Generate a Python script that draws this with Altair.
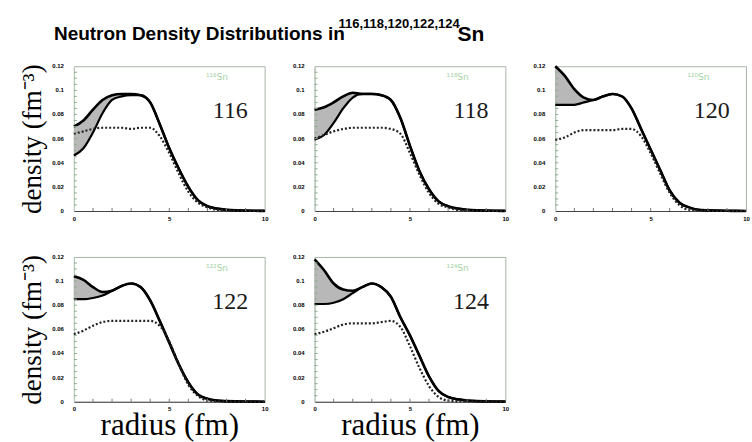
import altair as alt
import pandas as pd

# ---------------- data ----------------
radius = [0, 0.5, 1, 1.5, 2, 2.5, 3, 3.5, 4, 4.5, 5, 5.5, 6, 6.5, 7, 7.5, 8, 8.5, 9, 9.5, 10]

isotopes = ["116", "118", "120", "122", "124"]

upper_116 = [0.070, 0.075, 0.084, 0.092, 0.096, 0.097, 0.097, 0.096, 0.090, 0.072, 0.052, 0.035, 0.020, 0.009, 0.004, 0.002, 0.001, 0.0005, 0.0003, 0.0002, 0.0001]
lower_116 = [0.046, 0.052, 0.065, 0.081, 0.092, 0.095, 0.096, 0.096, 0.090, 0.072, 0.052, 0.035, 0.020, 0.009, 0.004, 0.002, 0.001, 0.0005, 0.0003, 0.0002, 0.0001]
dotted_116 = [0.064, 0.066, 0.068, 0.069, 0.069, 0.069, 0.068, 0.069, 0.069, 0.062, 0.048, 0.031, 0.016, 0.007, 0.003, 0.001, 0.0005, 0.0003, 0.0002, 0.0001, 0.0]

upper_118 = [0.084, 0.086, 0.090, 0.095, 0.098, 0.097, 0.097, 0.096, 0.092, 0.077, 0.054, 0.033, 0.018, 0.008, 0.004, 0.002, 0.001, 0.0005, 0.0003, 0.0002, 0.0001]
lower_118 = [0.059, 0.063, 0.073, 0.085, 0.094, 0.097, 0.097, 0.096, 0.092, 0.077, 0.054, 0.033, 0.018, 0.008, 0.004, 0.002, 0.001, 0.0005, 0.0003, 0.0002, 0.0001]
dotted_118 = [0.060, 0.063, 0.066, 0.068, 0.069, 0.069, 0.069, 0.069, 0.068, 0.064, 0.048, 0.030, 0.015, 0.006, 0.003, 0.001, 0.0005, 0.0003, 0.0002, 0.0001, 0.0]

upper_120 = [0.120, 0.112, 0.101, 0.094, 0.092, 0.095, 0.097, 0.095, 0.085, 0.068, 0.051, 0.034, 0.017, 0.007, 0.003, 0.001, 0.0005, 0.0003, 0.0002, 0.0001, 0.0]
lower_120 = [0.088, 0.088, 0.088, 0.090, 0.092, 0.095, 0.097, 0.095, 0.085, 0.068, 0.051, 0.034, 0.017, 0.007, 0.003, 0.001, 0.0005, 0.0003, 0.0002, 0.0001, 0.0]
dotted_120 = [0.059, 0.061, 0.065, 0.067, 0.067, 0.067, 0.067, 0.068, 0.068, 0.062, 0.048, 0.031, 0.015, 0.005, 0.001, 0.0005, 0.0002, 0.0001, 0.0, 0.0, 0.0]

upper_122 = [0.104, 0.101, 0.095, 0.091, 0.092, 0.096, 0.098, 0.095, 0.084, 0.067, 0.049, 0.031, 0.016, 0.006, 0.0025, 0.001, 0.0005, 0.0003, 0.0002, 0.0001, 0.0]
lower_122 = [0.085, 0.085, 0.086, 0.088, 0.092, 0.096, 0.098, 0.095, 0.084, 0.067, 0.049, 0.031, 0.016, 0.006, 0.0025, 0.001, 0.0005, 0.0003, 0.0002, 0.0001, 0.0]
dotted_122 = [0.056, 0.059, 0.063, 0.066, 0.067, 0.067, 0.067, 0.067, 0.067, 0.063, 0.050, 0.031, 0.014, 0.005, 0.001, 0.0005, 0.0002, 0.0001, 0.0, 0.0, 0.0]

upper_124 = [0.118, 0.109, 0.098, 0.093, 0.092, 0.095, 0.098, 0.095, 0.087, 0.070, 0.055, 0.038, 0.021, 0.009, 0.004, 0.002, 0.001, 0.0005, 0.0003, 0.0002, 0.0001]
lower_124 = [0.081, 0.081, 0.082, 0.085, 0.090, 0.095, 0.098, 0.095, 0.087, 0.070, 0.055, 0.038, 0.021, 0.009, 0.004, 0.002, 0.001, 0.0005, 0.0003, 0.0002, 0.0001]
dotted_124 = [0.056, 0.058, 0.061, 0.064, 0.065, 0.065, 0.065, 0.066, 0.067, 0.062, 0.046, 0.028, 0.013, 0.004, 0.001, 0.0005, 0.0002, 0.0001, 0.0, 0.0, 0.0]

x_labels = [0, 5, 10]
x_minor = [1, 2, 3, 4, 5, 6, 7, 8, 9]
y_labels = [0, 0.02, 0.04, 0.06, 0.08, 0.1, 0.12]
y_minor = [0.005, 0.01, 0.015, 0.02, 0.025, 0.03, 0.035, 0.04, 0.045, 0.05, 0.055,
           0.06, 0.065, 0.07, 0.075, 0.08, 0.085, 0.09, 0.095, 0.1, 0.105, 0.11, 0.115]

series = {
    "116": (upper_116, lower_116, dotted_116),
    "118": (upper_118, lower_118, dotted_118),
    "120": (upper_120, lower_120, dotted_120),
    "122": (upper_122, lower_122, dotted_122),
    "124": (upper_124, lower_124, dotted_124),
}
sup = {"116": "¹¹⁶Sn", "118": "¹¹⁸Sn", "120": "¹²⁰Sn", "122": "¹²²Sn", "124": "¹²⁴Sn"}

W, H = 191, 145
SERIF = "Liberation Serif"
SANS = "Liberation Sans"

one = pd.DataFrame({"k": [0]})
xminor_df = pd.DataFrame({"v": x_minor})
yminor_df = pd.DataFrame({"v": y_minor})
ylab_df = pd.DataFrame({"v": y_labels})


def panel(iso, show_y, show_x):
    up, lo, dt = series[iso]
    df = pd.DataFrame({"r": radius, "upper": up, "lower": lo, "dotted": dt})
    xa = dict(values=x_labels, format="d", tickSize=0, domainColor="#444444",
              labelFont=SANS, labelFontWeight="bold", labelFontSize=6, labelColor="black",
              labelPadding=4, labelOverlap=False, labelFlush=False, grid=False,
              titleFont=SERIF, titleFontSize=31, titleFontWeight="normal", titleColor="black",
              titleBaseline="alphabetic", titlePadding=23)
    xa["title"] = "radius (fm)" if show_x else None
    ya = dict(values=y_labels, labels=False, tickSize=0, domainColor="#b8cbb8", grid=False,
              titleFont=SERIF, titleFontSize=27, titleFontWeight="normal", titleColor="black",
              titlePadding=27)
    ya["title"] = "density (fm⁻³)" if show_y else None
    xs = alt.Scale(domain=[0, 10], nice=False)
    ys = alt.Scale(domain=[0, 0.12], nice=False)

    def X(f="r"):
        return alt.X(f + ":Q", scale=xs, axis=alt.Axis(**xa))

    def Y(f):
        return alt.Y(f + ":Q", scale=ys, axis=alt.Axis(**ya))

    base = alt.Chart(df)
    band = base.mark_area(color="#b0b0b0", opacity=0.9, interpolate="monotone").encode(
        x=X(), y=Y("lower"), y2="upper")
    l_up = base.mark_line(color="black", strokeWidth=2.6, interpolate="monotone").encode(
        x=X(), y=Y("upper"))
    l_lo = base.mark_line(color="black", strokeWidth=2.2, interpolate="monotone").encode(
        x=X(), y=Y("lower"))
    l_dt = base.mark_line(color="#222222", strokeWidth=2.2, strokeDash=[2, 2],
                          interpolate="monotone").encode(x=X(), y=Y("dotted"))
    ytick = alt.Chart(yminor_df).mark_rule(color="#8fae8f", strokeWidth=1).encode(
        y=Y("v"), x=alt.value(0), x2=alt.value(3))
    xtick = alt.Chart(xminor_df).mark_rule(color="#777777", strokeWidth=1).encode(
        x=X("v"), y=alt.value(H), y2=alt.value(H - 3))
    ylab = alt.Chart(ylab_df).mark_text(font=SANS, fontWeight="bold", fontSize=6,
                                        color="black", align="right", baseline="middle",
                                        dx=-10).encode(
        y=Y("v"), x=alt.value(0), text=alt.Text("v:Q", format=".2~f"))
    lb = alt.Chart(one)
    big = lb.mark_text(font=SERIF, fontSize=24, color="#1a1a1a", align="center",
                       baseline="middle").encode(
        x=alt.datum(8.2), y=alt.datum(0.083), text=alt.value(iso))
    small = lb.mark_text(font="DejaVu Sans", fontSize=9, color="#a6d4a6", align="center",
                         baseline="middle").encode(
        x=alt.datum(7.5), y=alt.datum(0.111), text=alt.value(sup[iso]))
    return alt.layer(band, l_up, l_lo, l_dt, ytick, xtick, ylab, big, small).properties(
        width=W, height=H)


row1 = alt.hconcat(panel("116", True, False), panel("118", False, False),
                   panel("120", False, False), spacing=21)
row2 = alt.hconcat(panel("122", True, True), panel("124", False, True), spacing=21)
rows = alt.vconcat(row1, row2, spacing=31)

hb = alt.Chart(one)
TF = "Liberation Sans"
t_main = hb.mark_text(font=TF, fontWeight="bold", fontSize=19, align="left",
                      baseline="alphabetic", color="black").encode(
    x=alt.value(-20), y=alt.value(40), text=alt.value("Neutron Density Distributions in"))
t_sup = hb.mark_text(font=TF, fontWeight="bold", fontSize=13, align="left",
                     baseline="alphabetic", color="black").encode(
    x=alt.value(265), y=alt.value(28), text=alt.value("116,118,120,122,124"))
t_sn = hb.mark_text(font=TF, fontWeight="bold", fontSize=21, align="left",
                    baseline="alphabetic", color="black").encode(
    x=alt.value(384), y=alt.value(41), text=alt.value("Sn"))
header = alt.layer(t_main, t_sup, t_sn).properties(
    width=640, height=45, view=alt.ViewBackground(strokeOpacity=0))

chart = alt.vconcat(header, rows, spacing=15).properties(
    padding={"left": 17, "top": 0, "right": 0, "bottom": 0},
    background="white",
).configure_view(stroke="#a9b5a9", strokeWidth=1)

chart.save("out.html", embed_options={"renderer": "svg", "actions": False})
